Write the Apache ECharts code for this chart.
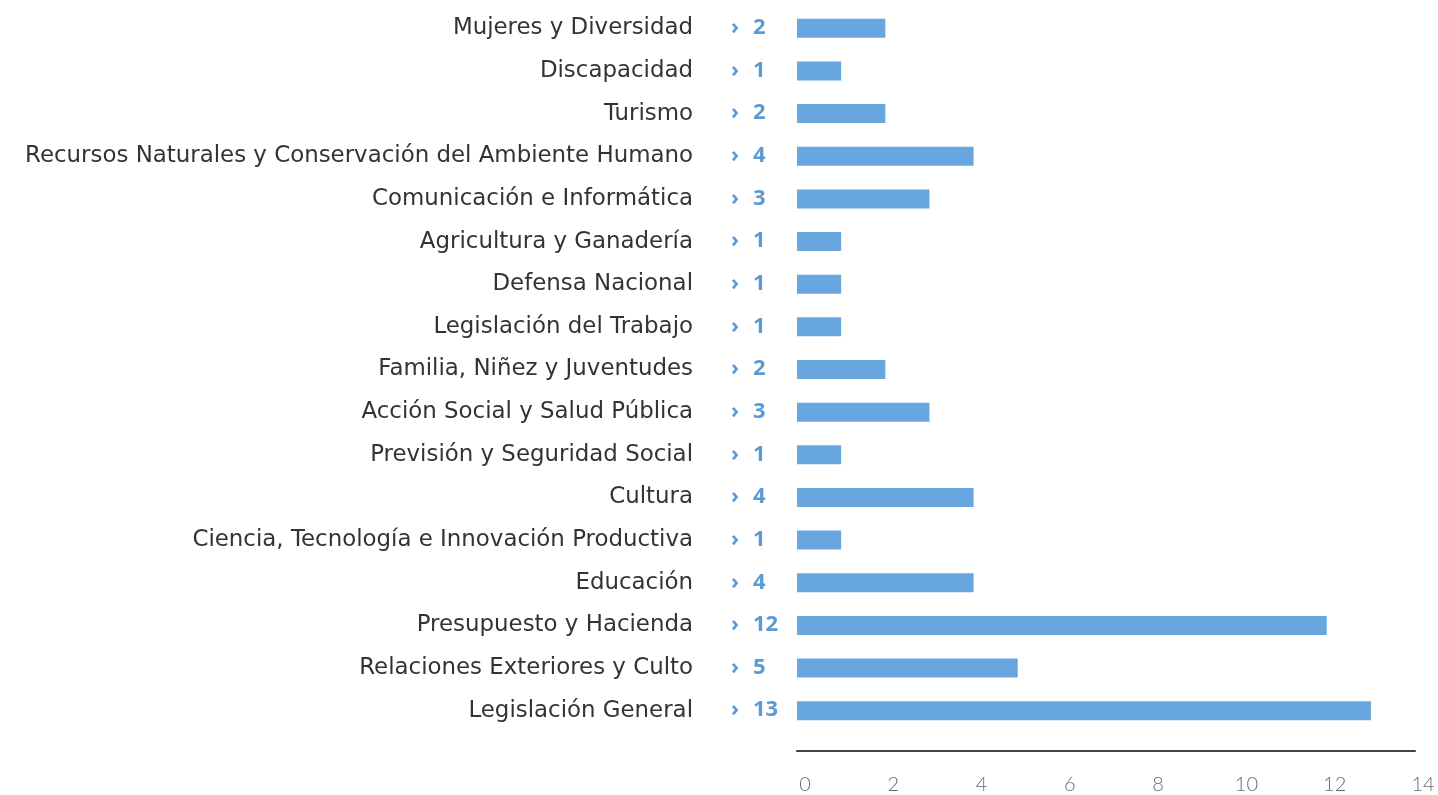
<!DOCTYPE html>
<html>
<head>
<meta charset="utf-8">
<script src="https://cdn.jsdelivr.net/npm/echarts@6/dist/echarts.min.js"></script>
<style>
  html, body { margin: 0; padding: 0; background: #fff; }
  #chart { width: 1438px; height: 795px; }
</style>
</head>
<body>
<div id="chart"></div>
<script>
// datos (de arriba hacia abajo)
const categories = [
  'Mujeres y Diversidad',
  'Discapacidad',
  'Turismo',
  'Recursos Naturales y Conservación del Ambiente Humano',
  'Comunicación e Informática',
  'Agricultura y Ganadería',
  'Defensa Nacional',
  'Legislación del Trabajo',
  'Familia, Niñez y Juventudes',
  'Acción Social y Salud Pública',
  'Previsión y Seguridad Social',
  'Cultura',
  'Ciencia, Tecnología e Innovación Productiva',
  'Educación',
  'Presupuesto y Hacienda',
  'Relaciones Exteriores y Culto',
  'Legislación General'
];
const values = [2, 1, 2, 4, 3, 1, 1, 1, 2, 3, 1, 4, 1, 4, 12, 5, 13];
const xTicks = [0, 2, 4, 6, 8, 10, 12, 14];

var chart = echarts.init(document.getElementById('chart'));

const option = {
  backgroundColor: '#ffffff',
  animation: false,
  grid: {
    left: 797,
    right: 23,
    top: 7,
    bottom: 63
  },
  xAxis: {
    type: 'value',
    min: xTicks[0],
    max: xTicks[xTicks.length - 1],
    interval: 2,
    offset: 19,
    splitLine: { show: false },
    axisTick: { show: false },
    axisLine: {
      show: true,
      lineStyle: { color: '#444', width: 2 }
    },
    axisLabel: {
      margin: 24,
      padding: [0, 0, 0, 16],
      color: '#6a6a6a',
      fontFamily: 'Lato',
      fontWeight: 300,
      fontSize: 20
    }
  },
  yAxis: {
    type: 'category',
    data: categories,
    inverse: true,
    axisLine: { show: false },
    axisTick: { show: false },
    axisLabel: {
      margin: 104,
      color: '#333',
      fontFamily: 'DejaVu Sans',
      fontSize: 22.9
    }
  },
  series: [
    {
      type: 'bar',
      data: values,
      barWidth: 19,
      itemStyle: { color: '#67a6df' },
      label: {
        show: true,
        position: [-66, 9],
        align: 'left',
        verticalAlign: 'middle',
        formatter: function (p) {
          return '{ch|›}{v|' + p.value + '}';
        },
        rich: {
          ch: {
            color: '#5b9bd5',
            fontFamily: 'Noto Sans',
            fontWeight: 'bold',
            fontSize: 22,
            width: 22
          },
          v: {
            color: '#5b9bd5',
            fontFamily: 'Noto Sans',
            fontWeight: 'bold',
            fontSize: 22
          }
        }
      }
    }
  ]
};

chart.setOption(option);
</script>
</body>
</html>
